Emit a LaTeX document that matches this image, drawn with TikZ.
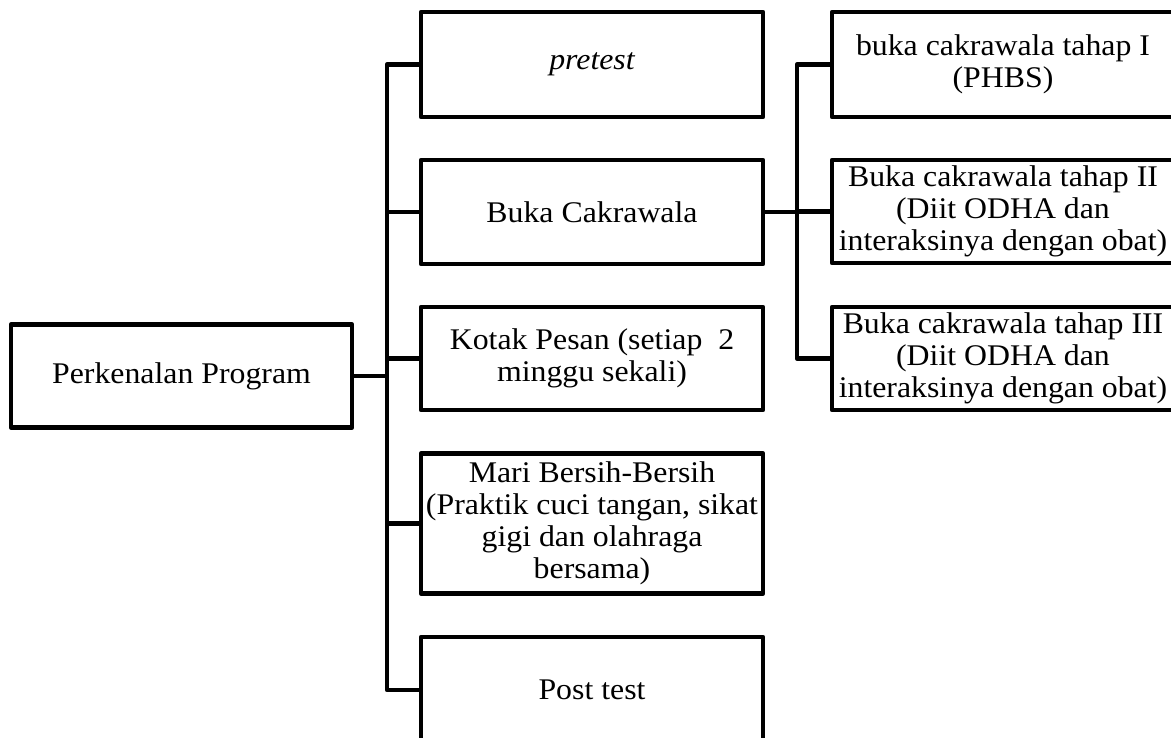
\documentclass[tikz,border=0pt]{standalone}
\usepackage{fontspec}
\setmainfont{Liberation Serif}[FakeStretch=1.06]
\begin{document}
\begin{tikzpicture}[x=1pt,y=-1pt,
  box/.style={draw, line width=4.5pt, line join=round, minimum width=342pt, inner sep=0pt, align=center, font=\fontsize{30}{32}\selectfont},
  conn/.style={line width=4.5pt, line join=round}]
\useasboundingbox (0,0) rectangle (1171,738);
\node[box, minimum width=341pt, minimum height=103pt] (intro) at (181.5,376) {Perkenalan Program};
\node[box, minimum height=105pt] (pre) at (592,64.5) {\itshape pretest};
\node[box, minimum height=104pt] (buka) at (592,212) {Buka Cakrawala};
\node[box, minimum height=103pt] (kotak) at (592,358.5) {Kotak Pesan (setiap~~2\\minggu sekali)};
\node[box, minimum height=140pt] (mari) at (592,523.5) {Mari Bersih-Bersih\\(Praktik cuci tangan, sikat\\gigi dan olahraga\\bersama)};
\node[box, minimum height=106pt] (post) at (592,690) {Post test};
\node[box, minimum height=105pt] (r1) at (1003,64.5) {buka cakrawala tahap I\\(PHBS)};
\node[box, minimum height=103pt] (r2) at (1003,211.5) {Buka cakrawala tahap II\\(Diit ODHA dan\\interaksinya dengan obat)};
\node[box, minimum height=103pt] (r3) at (1003,358.5) {Buka cakrawala tahap III\\(Diit ODHA dan\\interaksinya dengan obat)};
\coordinate (t) at (387,0);
\coordinate (u) at (797,0);
\draw[conn] (intro.east) -- (intro.east -| t);
\draw[conn] (pre.west) -- (pre.west -| t) -- (post.west -| t) -- (post.west);
\draw[conn] (buka.west -| t) -- (buka.west);
\draw[conn] (kotak.west -| t) -- (kotak.west);
\draw[conn] (mari.west -| t) -- (mari.west);
\draw[conn] (buka.east) -- (buka.east -| u);
\draw[conn] (r1.west) -- (r1.west -| u) -- (r3.west -| u) -- (r3.west);
\draw[conn] (r2.west -| u) -- (r2.west);
\end{tikzpicture}
\end{document}
